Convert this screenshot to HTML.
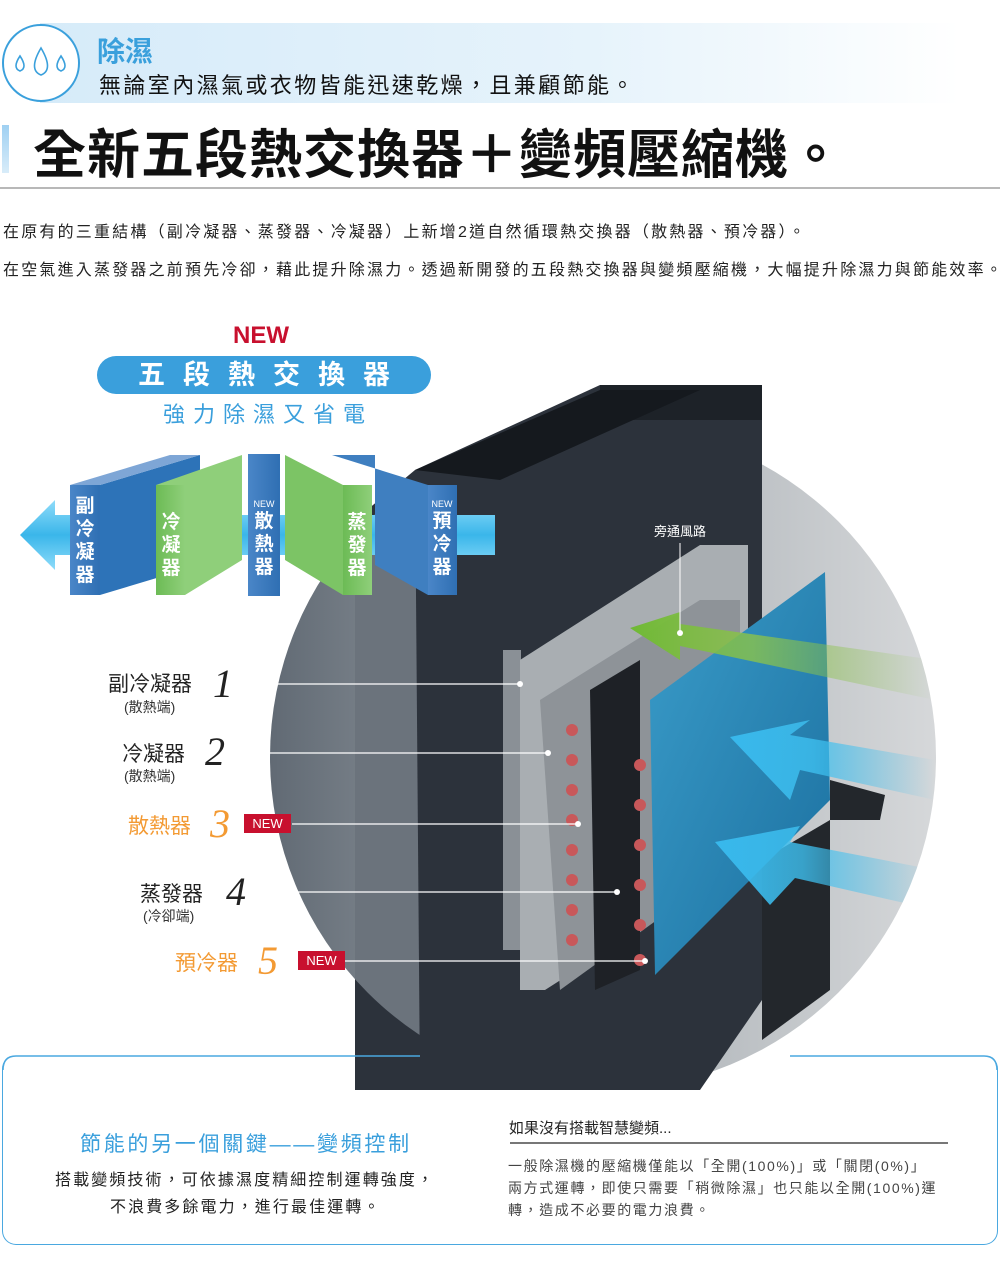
<!DOCTYPE html>
<html><head><meta charset="utf-8">
<style>
body{margin:0;width:1000px;height:1272px;background:#fff;position:relative;overflow:hidden;font-family:"Liberation Sans","Noto Sans CJK TC",sans-serif;}
.a{position:absolute;white-space:nowrap;}
</style></head><body>
<div class="a" style="left:40px;top:23px;width:920px;height:80px;background:linear-gradient(90deg,#d6ebf9,#e6f3fb 60%,rgba(255,255,255,0))"></div>
<svg class="a" style="left:0;top:22px" width="84" height="84"><circle cx="41" cy="41" r="38" fill="#fff" stroke="#3aa0dc" stroke-width="2"/>
<g fill="none" stroke="#3aa0dc" stroke-width="1.6"><path d="M20 34 q-8 12 0 15 q8-3 0-15z"/><path d="M41 26 q-13 22 0 27 q13-5 0-27z"/><path d="M61 34 q-8 12 0 15 q8-3 0-15z"/></g></svg>
<div class="a" style="left:97px;top:30px;font-size:28px;color:#3aa0dc;font-weight:bold">除濕</div>
<div class="a" style="left:99px;top:68px;font-size:22px;color:#111;letter-spacing:2.4px">無論室內濕氣或衣物皆能迅速乾燥，且兼顧節能。</div>
<div class="a" style="left:2px;top:125px;width:7px;height:48px;background:linear-gradient(#9fd0f2,#d8ecf9)"></div>
<div class="a" style="left:33px;top:113px;font-size:53px;font-weight:bold;color:#111;letter-spacing:1px">全新五段熱交換器＋變頻壓縮機。</div>
<div class="a" style="left:0;top:187px;width:1000px;height:2px;background:#b8b8b8"></div>
<div class="a" style="left:3px;top:218px;font-size:16px;color:#222;letter-spacing:2.2px">在原有的三重結構（副冷凝器、蒸發器、冷凝器）上新增2道自然循環熱交換器（散熱器、預冷器）。</div>
<div class="a" style="left:3px;top:256px;font-size:16px;color:#222;letter-spacing:2.2px">在空氣進入蒸發器之前預先冷卻，藉此提升除濕力。透過新開發的五段熱交換器與變頻壓縮機，大幅提升除濕力與節能效率。</div>

<svg class="a" style="left:0;top:0" width="1000" height="1272">
<defs>
<linearGradient id="cg" x1="0" y1="0" x2="1" y2="0"><stop offset="0" stop-color="#616a74"/><stop offset="0.5" stop-color="#aab0b5"/><stop offset="1" stop-color="#d6d8da"/></linearGradient>
<linearGradient id="bl" x1="0" y1="0" x2="1" y2="1"><stop offset="0" stop-color="#3a9cc9"/><stop offset="1" stop-color="#1b6f9f"/></linearGradient>
<linearGradient id="gr" x1="1" y1="0" x2="0" y2="0"><stop offset="0" stop-color="#8bc34a" stop-opacity="0"/><stop offset="0.6" stop-color="#8bc34a" stop-opacity="0.8"/><stop offset="1" stop-color="#6fb934"/></linearGradient>
<linearGradient id="ba" x1="1" y1="0" x2="0" y2="0"><stop offset="0" stop-color="#3ec0f0" stop-opacity="0"/><stop offset="0.6" stop-color="#3ec0f0" stop-opacity="0.8"/><stop offset="1" stop-color="#38b8ec"/></linearGradient>
<linearGradient id="pb" x1="0" y1="0" x2="1" y2="0"><stop offset="0" stop-color="#4a86c8"/><stop offset="1" stop-color="#2f6fb3"/></linearGradient>
<linearGradient id="pg" x1="0" y1="0" x2="1" y2="0"><stop offset="0" stop-color="#6cbb55"/><stop offset="1" stop-color="#8fcf7a"/></linearGradient>
<linearGradient id="tb" x1="0" y1="0" x2="0" y2="1"><stop offset="0" stop-color="#8fdcfa"/><stop offset="0.5" stop-color="#3ab6ea"/><stop offset="1" stop-color="#8fdcfa"/></linearGradient>
<clipPath id="cc"><circle cx="603" cy="757" r="333"/></clipPath>
</defs>
<circle cx="603" cy="757" r="333" fill="url(#cg)"/>
<polygon points="415,470 600,385 762,385 762,1000 700,1090 355,1090 355,520" fill="#2c323b"/>
<polygon points="762,860 830,820 830,990 762,1040" fill="#23272c" clip-path="url(#cc)"/>
<polygon points="355,520 415,470 420,1090 355,1090" fill="#6b737c" clip-path="url(#cc)"/>
<polygon points="600,385 762,385 762,420 600,420" fill="#1d2228"/>
<polygon points="415,470 600,390 700,390 500,480" fill="#15191e"/>
<rect x="503" y="650" width="18" height="300" fill="#8a9096"/>
<polygon points="520,660 700,545 748,545 748,860 545,990 520,990" fill="#a9aeb2"/>
<polygon points="540,700 700,600 740,600 740,860 560,990" fill="#8e9398"/>
<polygon points="590,690 640,660 640,970 595,990" fill="#1e2126"/>
<polygon points="650,700 825,572 830,800 655,975" fill="url(#bl)"/>
<g fill="#c8585a">
<circle cx="572" cy="730" r="6"/><circle cx="572" cy="760" r="6"/><circle cx="572" cy="790" r="6"/><circle cx="572" cy="820" r="6"/><circle cx="572" cy="850" r="6"/><circle cx="572" cy="880" r="6"/><circle cx="572" cy="910" r="6"/><circle cx="572" cy="940" r="6"/>
<circle cx="640" cy="765" r="6"/><circle cx="640" cy="805" r="6"/><circle cx="640" cy="845" r="6"/><circle cx="640" cy="885" r="6"/><circle cx="640" cy="925" r="6"/><circle cx="640" cy="960" r="6"/>
</g>
<polygon points="830,780 885,795 880,820 830,820" fill="#23272c"/>
<polygon points="630,628 680,612 680,624 935,660 935,700 680,646 680,660" fill="url(#gr)" clip-path="url(#cc)"/>
<polygon points="730,737 810,720 790,735 935,760 935,800 800,770 790,800" fill="url(#ba)" clip-path="url(#cc)"/>
<polygon points="715,842 800,826 790,842 935,870 935,910 795,878 770,905" fill="url(#ba)" clip-path="url(#cc)"/>
<text x="680" y="536" font-size="13" fill="#fff" text-anchor="middle" font-family="Liberation Sans,Noto Sans CJK TC,sans-serif">旁通風路</text>
<line x1="680" y1="543" x2="680" y2="632" stroke="#fff" stroke-width="1"/><circle cx="680" cy="633" r="3" fill="#fff"/>
<g stroke="#fff" stroke-width="1.3"><line x1="275" y1="684" x2="520" y2="684"/><line x1="268" y1="753" x2="548" y2="753"/><line x1="292" y1="824" x2="578" y2="824"/><line x1="298" y1="892" x2="617" y2="892"/><line x1="345" y1="961" x2="645" y2="961"/></g>
<g fill="#fff"><circle cx="520" cy="684" r="3"/><circle cx="548" cy="753" r="3"/><circle cx="578" cy="824" r="3"/><circle cx="617" cy="892" r="3"/><circle cx="645" cy="961" r="3"/></g>

<polygon points="20,535 55,500 55,515 495,515 495,555 55,555 55,570" fill="url(#tb)"/>
<polygon points="100,485 200,455 200,565 100,595" fill="#2d73b8"/>
<polygon points="100,485 70,485 170,455 200,455" fill="#7ea6d6"/>
<rect x="70" y="485" width="30" height="110" fill="url(#pb)"/>
<polygon points="156,485 242,455 242,560 185,595 185,485" fill="#8fcf7a"/>
<rect x="156" y="485" width="29" height="110" fill="url(#pg)"/>
<rect x="248" y="454" width="32" height="142" fill="url(#pb)"/>
<polygon points="285,455 343,485 343,595 285,560" fill="#7cc465"/>
<rect x="343" y="485" width="29" height="110" fill="url(#pg)"/>
<polygon points="332,455 428,485 428,595 375,565 375,455" fill="#3f7fc0"/>
<rect x="428" y="485" width="29" height="110" fill="url(#pb)"/>
<g fill="#fff" font-size="19" font-weight="bold" font-family="Liberation Sans,Noto Sans CJK TC,sans-serif" text-anchor="middle">
<text x="85" y="512">副</text><text x="85" y="535">冷</text><text x="85" y="558">凝</text><text x="85" y="581">器</text>
<text x="171" y="528">冷</text><text x="171" y="551">凝</text><text x="171" y="574">器</text>
<text x="264" y="527">散</text><text x="264" y="550">熱</text><text x="264" y="573">器</text>
<text x="357" y="528">蒸</text><text x="357" y="551">發</text><text x="357" y="574">器</text>
<text x="442" y="527">預</text><text x="442" y="550">冷</text><text x="442" y="573">器</text>
<text x="264" y="507" font-size="9" font-weight="normal">NEW</text><text x="442" y="507" font-size="9" font-weight="normal">NEW</text>
</g>
</svg>

<div class="a" style="left:233px;top:322px;font-size:24px;font-weight:bold;color:#c8102e">NEW</div>
<div class="a" style="left:97px;top:356px;width:334px;height:38px;border-radius:19px;background:#3a9fdc;color:#fff;font-size:27px;font-weight:bold;text-align:center;line-height:38px;letter-spacing:18px;text-indent:18px">五段熱交換器</div>
<div class="a" style="left:163px;top:397px;font-size:22px;color:#3a9fdc;letter-spacing:8px">強力除濕又省電</div>

<div class="a" style="left:108px;top:668px;font-size:21px;color:#222">副冷凝器</div>
<div class="a" style="left:213px;top:660px;font-size:40px;font-style:italic;font-family:'Liberation Serif',serif;color:#222">1</div>
<div class="a" style="left:124px;top:697px;font-size:14px;color:#333">(散熱端)</div>
<div class="a" style="left:122px;top:738px;font-size:21px;color:#222">冷凝器</div>
<div class="a" style="left:205px;top:728px;font-size:40px;font-style:italic;font-family:'Liberation Serif',serif;color:#222">2</div>
<div class="a" style="left:124px;top:766px;font-size:14px;color:#333">(散熱端)</div>
<div class="a" style="left:128px;top:810px;font-size:21px;color:#f39a33">散熱器</div>
<div class="a" style="left:210px;top:800px;font-size:40px;font-style:italic;font-family:'Liberation Serif',serif;color:#f39a33">3</div>
<div class="a" style="left:244px;top:814px;width:47px;height:19px;background:#c8102e;color:#fff;font-size:13px;line-height:19px;text-align:center">NEW</div>
<div class="a" style="left:140px;top:878px;font-size:21px;color:#222">蒸發器</div>
<div class="a" style="left:226px;top:868px;font-size:40px;font-style:italic;font-family:'Liberation Serif',serif;color:#222">4</div>
<div class="a" style="left:143px;top:906px;font-size:14px;color:#333">(冷卻端)</div>
<div class="a" style="left:175px;top:947px;font-size:21px;color:#f39a33">預冷器</div>
<div class="a" style="left:258px;top:937px;font-size:40px;font-style:italic;font-family:'Liberation Serif',serif;color:#f39a33">5</div>
<div class="a" style="left:298px;top:951px;width:47px;height:19px;background:#c8102e;color:#fff;font-size:13px;line-height:19px;text-align:center">NEW</div>

<div class="a" style="left:2px;top:1055px;width:994px;height:188px;border:1.5px solid #4aa8e0;border-radius:14px;border-top-color:transparent"></div>
<svg class="a" style="left:0;top:1050px" width="1000" height="20"><path d="M3 20 Q3 6 16 6 L420 6 M790 6 L984 6 Q997 6 997 20" fill="none" stroke="#4aa8e0" stroke-width="1.5"/></svg>
<div class="a" style="left:80px;top:1128px;font-size:21px;color:#3a9fdc;letter-spacing:2.7px">節能的另一個關鍵——變頻控制</div>
<div class="a" style="left:55px;top:1166px;font-size:16px;color:#222;letter-spacing:2.1px">搭載變頻技術，可依據濕度精細控制運轉強度，</div>
<div class="a" style="left:110px;top:1193px;font-size:16px;color:#222;letter-spacing:2.1px">不浪費多餘電力，進行最佳運轉。</div>
<div class="a" style="left:509px;top:1117px;font-size:15px;color:#222">如果沒有搭載智慧變頻...</div>
<div class="a" style="left:510px;top:1142px;width:438px;height:1.5px;background:#777"></div>
<div class="a" style="left:508px;top:1155px;font-size:14px;color:#444;line-height:22px;letter-spacing:1.6px">一般除濕機的壓縮機僅能以「全開(100%)」或「關閉(0%)」<br>兩方式運轉，即使只需要「稍微除濕」也只能以全開(100%)運<br>轉，造成不必要的電力浪費。</div>
</body></html>
